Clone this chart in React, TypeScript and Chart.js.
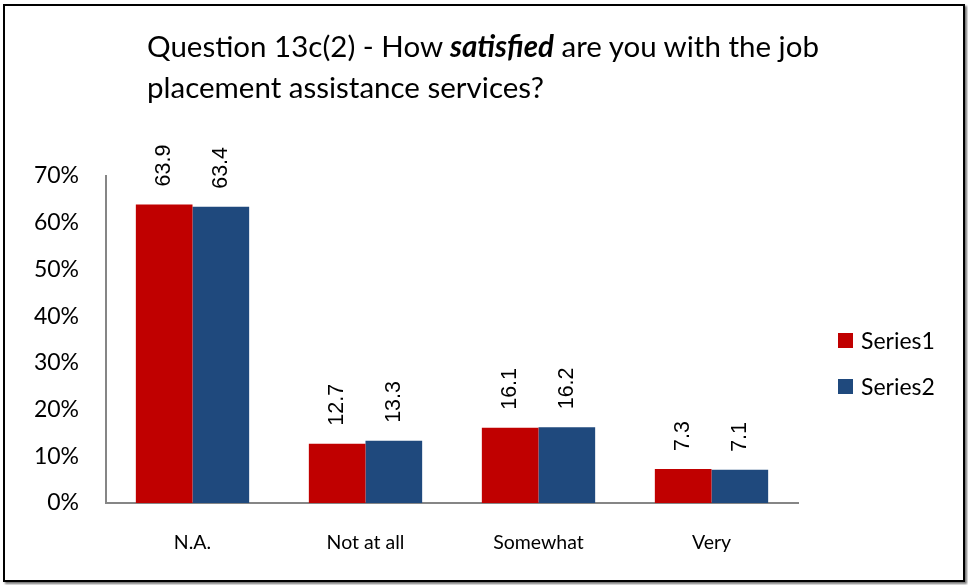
import React, { useEffect, useRef } from "react";
import { Chart, registerables } from "chart.js";

Chart.register(...registerables);

const categories = ["N.A.", "Not at all", "Somewhat", "Very"];
const series1 = [63.9, 12.7, 16.1, 7.3];
const series2 = [63.4, 13.3, 16.2, 7.1];
const seriesNames = ["Series1", "Series2"];
const seriesColors = ["#C00000", "#1F497D"];
const yMax = 70;
const yStep = 10;

const valueLabels = {
  id: "valueLabels",
  afterDatasetsDraw(chart: any) {
    const ctx = chart.ctx;
    ctx.save();
    ctx.font = "21.5px 'Liberation Sans', Arial, sans-serif";
    ctx.fillStyle = "#000";
    chart.data.datasets.forEach((ds: any, i: number) => {
      const meta = chart.getDatasetMeta(i);
      meta.data.forEach((el: any, j: number) => {
        const v = ds.data[j];
        ctx.save();
        ctx.translate(el.x, el.y - 18);
        ctx.rotate(-Math.PI / 2);
        ctx.textAlign = "left";
        ctx.textBaseline = "middle";
        ctx.fillText(Number(v).toFixed(1), 0, 0);
        ctx.restore();
      });
    });
    ctx.restore();
  },
};

export default function App() {
  const ref = useRef<HTMLCanvasElement | null>(null);

  useEffect(() => {
    if (!ref.current) return;
    const chart = new Chart(ref.current, {
      type: "bar",
      data: {
        labels: categories,
        datasets: [
          {
            label: seriesNames[0],
            data: series1,
            backgroundColor: seriesColors[0],
            categoryPercentage: 0.655,
            barPercentage: 1,
          },
          {
            label: seriesNames[1],
            data: series2,
            backgroundColor: seriesColors[1],
            categoryPercentage: 0.655,
            barPercentage: 1,
          },
        ],
      },
      options: {
        responsive: false,
        animation: false,
        layout: { padding: { top: 176, right: 170, left: 0, bottom: 0 } },
        plugins: {
          legend: { display: false },
          title: { display: false },
          tooltip: { enabled: false },
        },
        scales: {
          x: {
            grid: { display: false },
            border: { display: true, color: "#868686", width: 2 },
            ticks: {
              color: "#000",
              padding: 20,
              font: { family: "Lato", size: 19.5 },
            },
            afterFit: (s: any) => {
              s.height = 82;
            },
          },
          y: {
            min: 0,
            max: yMax,
            grid: { display: false },
            border: { display: true, color: "#868686", width: 2 },
            ticks: {
              stepSize: yStep,
              color: "#000",
              padding: 19,
              font: { family: "Lato", size: 23 },
              callback: (v: any) => v + "%",
            },
            afterFit: (s: any) => {
              s.width = 106;
            },
          },
        },
      },
      plugins: [valueLabels],
    });
    return () => chart.destroy();
  }, []);

  const legendItem = (i: number, top: number) => (
    <div
      key={i}
      style={{
        position: "absolute",
        left: 838,
        top,
        display: "flex",
        alignItems: "center",
        fontFamily: "Lato, sans-serif",
        fontSize: 23,
        color: "#000",
        lineHeight: "28px",
      }}
    >
      <span
        style={{
          display: "inline-block",
          width: 15,
          height: 15,
          background: seriesColors[i],
          marginRight: 8,
        }}
      />
      <span>{seriesNames[i]}</span>
    </div>
  );

  return (
    <div
      style={{
        position: "absolute",
        left: 0,
        top: 0,
        width: 968,
        height: 585,
        background: "#fff",
        overflow: "hidden",
      }}
    >
      <canvas
        ref={ref}
        width={968}
        height={585}
        style={{ position: "absolute", left: 0, top: 0, display: "block" }}
      />
      <div
        style={{
          position: "absolute",
          left: 3,
          top: 4,
          width: 958,
          height: 574,
          border: "2.5px solid #000",
          boxShadow: "2px 2px 2px #777",
          pointerEvents: "none",
        }}
      />
      <div
        style={{
          position: "absolute",
          left: 147,
          top: 25,
          fontFamily: "Lato, sans-serif",
          fontSize: 29.5,
          lineHeight: "41px",
          color: "#000",
          whiteSpace: "nowrap",
        }}
      >
        Question 13c(2) - How <b><i>satisfied</i></b> are you with the job
        <br />
        placement assistance services?
      </div>
      {legendItem(0, 326)}
      {legendItem(1, 372)}
    </div>
  );
}
